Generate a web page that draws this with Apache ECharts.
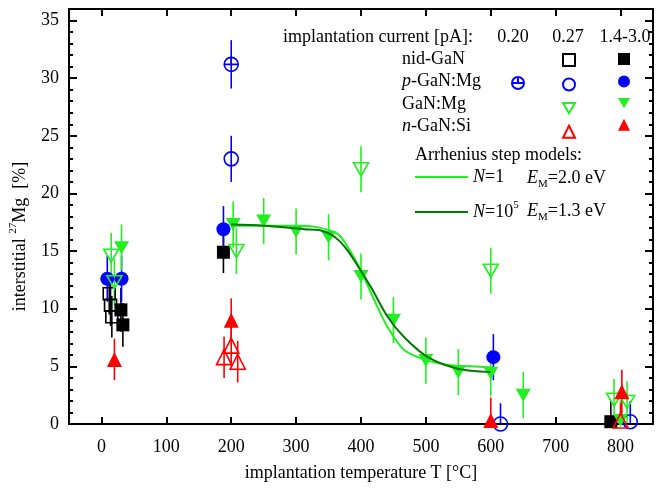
<!DOCTYPE html>
<html>
<head>
<meta charset="utf-8">
<script src="https://cdn.jsdelivr.net/npm/echarts@6/dist/echarts.min.js"></script>
<style>
html, body { margin: 0; padding: 0; background: #fff; }
#chart { width: 658px; height: 491px; }
</style>
</head>
<body>
<div id="chart"></div>
<script>
// [temperature °C, interstitial 27Mg %, error]
const nidOpen = [[12, 11.3, 1.8], [14, 10.3, 1.8], [16, 9.3, 1.8]];
const nidFilled = [[30, 9.9, 1.9], [33, 8.6, 1.9], [188, 14.9, 1.8], [785, 0.2, 1.8]];
const pCross = [[200, 31.2, 2.1]];
const pOpen = [[200, 23.0, 2.0], [615, 0.0, 1.8], [815, 0.2, 1.8]];
const pFilled = [[9, 12.6, 2.0], [31, 12.6, 2.0], [188, 16.9, 2.0], [604, 5.8, 2.0]];
const gOpen = [[15, 14.6, 2.0], [20, 12.3, 2.0], [208, 15.0, 2.0], [400, 22.1, 2.0],
               [600, 13.3, 2.0], [790, 2.1, 1.8], [810, 1.9, 1.8]];
const gFilled = [[31, 15.3, 2.0], [203, 17.3, 2.0], [250, 17.6, 2.0], [300, 16.7, 2.0],
                 [350, 16.2, 2.0], [400, 12.8, 2.0], [450, 9.0, 2.0], [500, 5.5, 2.0],
                 [550, 4.5, 2.0], [600, 4.4, 2.0], [650, 2.5, 2.0], [800, 0.3, 1.8]];
const nOpen = [[189, 5.8, 1.8], [200, 6.8, 1.8], [210, 5.4, 1.8], [800, 0.3, 1.5]];
const nFilled = [[20, 5.6, 1.8], [200, 9.0, 1.9], [600, 0.3, 2.0], [802, 2.8, 1.9]];

// Arrhenius step model curves
const n1X = [200, 230, 262, 300, 330, 364, 380, 400, 420, 441, 467, 503, 538, 570, 600];
const n1Y = [17.2, 17.2, 17.2, 17.2, 17.1, 16.5, 15.3, 13.3, 10.8, 8.4, 6.4, 5.5, 5.1, 5.0, 4.9];
const n5X = [200, 250, 312, 337, 360, 380, 415, 441, 467, 503, 549, 600];
const n5Y = [17.3, 17.2, 16.9, 16.8, 16.2, 15.0, 11.9, 9.3, 7.5, 5.8, 4.8, 4.5];

const xTicks = [0, 100, 200, 300, 400, 500, 600, 700, 800];
const legendRows = ['nid-GaN', '{i|p}-GaN:Mg', 'GaN:Mg', '{i|n}-GaN:Si'];
const currentCols = ['0.20', '0.27', '1.4-3.0'];

const serif = 'Liberation Serif';
const BLUE = '#0000ff', RED = '#ff0000', LGREEN = '#22ee22', DGREEN = '#007a00', BLACK = '#000';
const crossCircle = 'path://M0,10A10,10 0 1,1 20,10A10,10 0 1,1 0,10ZM0,10L20,10M10,0L10,10';
const downTriangle = 'path://M0,0L20,0L10,17Z';

function errBars(data, color) {
    return {
        type: 'custom',
        data: data,
        z: 2,
        silent: true,
        clip: true,
        encode: { x: 0, y: 1 },
        renderItem: function (params, api) {
            const x = api.value(0), y = api.value(1), e = api.value(2);
            const p1 = api.coord([x, y - e]);
            const p2 = api.coord([x, y + e]);
            return {
                type: 'line',
                shape: { x1: p1[0], y1: p1[1], x2: p2[0], y2: p2[1] },
                style: { stroke: color, lineWidth: 1.6 }
            };
        }
    };
}

function points(name, data, symbol, color, hollow, size) {
    return {
        type: 'scatter',
        name: name,
        data: data,
        symbol: symbol,
        symbolSize: size,
        z: 3,
        itemStyle: hollow
            ? { color: 'rgba(0,0,0,0)', borderColor: color, borderWidth: 1.6, opacity: 1 }
            : { color: color, opacity: 1 }
    };
}

function pairs(xs, ys) {
    return xs.map((x, i) => [x, ys[i]]);
}

const series = [
    errBars(nidOpen, BLACK), errBars(nidFilled, BLACK),
    errBars(pCross, BLUE), errBars(pOpen, BLUE), errBars(pFilled, BLUE),
    errBars(gOpen, LGREEN), errBars(gFilled, LGREEN),
    errBars(nOpen, RED), errBars(nFilled, RED),
    points('nid 0.27', nidOpen, 'rect', BLACK, true, 12),
    points('nid 1.4', nidFilled, 'rect', BLACK, false, 13),
    points('p 0.20', pCross, crossCircle, BLUE, true, 14),
    points('p 0.27', pOpen, 'circle', BLUE, true, 14),
    points('p 1.4', pFilled, 'circle', BLUE, false, 14),
    points('g 0.27', gOpen, downTriangle, LGREEN, true, [15, 13]),
    points('g 1.4', gFilled, downTriangle, LGREEN, false, [15, 13]),
    points('n 0.27', nOpen, 'triangle', RED, true, 15),
    points('n 1.4', nFilled, 'triangle', RED, false, 15),
    {
        type: 'line', name: 'N1', data: pairs(n1X, n1Y), smooth: 0.3,
        showSymbol: false, symbol: 'none', z: 4,
        lineStyle: { color: LGREEN, width: 2 }, itemStyle: { color: LGREEN }
    },
    {
        type: 'line', name: 'N5', data: pairs(n5X, n5Y), smooth: 0.3,
        showSymbol: false, symbol: 'none', z: 4,
        lineStyle: { color: DGREEN, width: 2 }, itemStyle: { color: DGREEN }
    }
];

const markerLegend = {
    orient: 'vertical',
    padding: 0,
    itemWidth: 12,
    itemHeight: 12,
    itemGap: 10.5,
    selectedMode: false,
    formatter: function () { return ''; },
    textStyle: { fontSize: 10, lineHeight: 10 }
};

const richText = {
    i: { fontFamily: serif, fontSize: 18, fontStyle: 'italic', color: '#000' },
    r: { fontFamily: serif, fontSize: 18, color: '#000' },
    sup: { fontFamily: serif, fontSize: 11, color: '#000', padding: [0, 0, 13, 0] },
    sub: { fontFamily: serif, fontSize: 11, color: '#000', padding: [12, 0, 0, 0] }
};

function label(x, y, text, align) {
    return {
        type: 'text', x: x, y: y,
        style: {
            text: text, fontFamily: serif, fontSize: 18, fill: '#000',
            align: align || 'left', verticalAlign: 'middle', rich: richText
        }
    };
}

const rowY = [59, 81.5, 104, 126.5];
const colX = [513, 568, 625];
const graphics = [label(283, 37, 'implantation current [pA]:')];
currentCols.forEach((c, i) => graphics.push(label(colX[i], 37, c, 'center')));
legendRows.forEach((r, i) => graphics.push(label(402, rowY[i], r)));
graphics.push(label(415, 155, 'Arrhenius step models:'));
graphics.push(label(527, 178, '{i|E}{sub|M}{r|=2.0 eV}'));
graphics.push(label(527, 211, '{i|E}{sub|M}{r|=1.3 eV}'));

const axisStyle = { color: '#000', width: 2 };

const option = {
    animation: false,
    grid: { left: 68, right: 5, top: 9, bottom: 67 },
    xAxis: [{
        type: 'value', min: -50, max: 850, interval: 100,
        name: 'implantation temperature T [°C]',
        nameLocation: 'middle', nameGap: 40,
        nameTextStyle: { fontFamily: serif, fontSize: 18, color: '#000' },
        axisLine: { onZero: false, lineStyle: axisStyle },
        axisTick: { inside: true, length: 7, lineStyle: axisStyle, customValues: xTicks },
        minorTick: { show: true, splitNumber: 2, length: 4, lineStyle: axisStyle },
        axisLabel: { fontFamily: serif, fontSize: 18, color: '#000', margin: 14, customValues: xTicks },
        splitLine: { show: false }
    }, {
        type: 'value', min: -50, max: 850, interval: 100, position: 'top',
        axisLine: { onZero: false, lineStyle: axisStyle },
        axisTick: { inside: true, length: 7, lineStyle: axisStyle, customValues: xTicks },
        minorTick: { show: true, splitNumber: 2, length: 4, lineStyle: axisStyle },
        axisLabel: { show: false },
        splitLine: { show: false }
    }],
    yAxis: [{
        type: 'value', min: 0, max: 36, interval: 5,
        name: 'interstitial {sup|27}Mg  [%]',
        nameLocation: 'middle', nameGap: 37,
        nameTextStyle: { fontFamily: serif, fontSize: 18, color: '#000', rich: richText, padding: [0, 40, 0, 0] },
        axisLine: { onZero: false, lineStyle: axisStyle },
        axisTick: { inside: true, length: 8, lineStyle: axisStyle },
        minorTick: { show: true, splitNumber: 5, length: 4, lineStyle: axisStyle },
        axisLabel: { fontFamily: serif, fontSize: 18, color: '#000', margin: 10 },
        splitLine: { show: false }
    }, {
        type: 'value', min: 0, max: 36, interval: 5, position: 'right',
        axisLine: { onZero: false, lineStyle: axisStyle },
        axisTick: { inside: true, length: 8, lineStyle: axisStyle },
        minorTick: { show: true, splitNumber: 5, length: 4, lineStyle: axisStyle },
        axisLabel: { show: false },
        splitLine: { show: false }
    }],
    legend: [
        Object.assign({}, markerLegend, { data: ['p 0.20'], left: 511, top: 76 }),
        Object.assign({}, markerLegend, {
            data: ['nid 0.27', 'p 0.27', 'g 0.27', 'n 0.27'], left: 562, top: 53
        }),
        Object.assign({}, markerLegend, {
            data: ['nid 1.4', 'p 1.4', 'g 1.4', 'n 1.4'], left: 618, top: 53
        }),
        {
            orient: 'vertical', padding: 0, left: 415, top: 167,
            itemWidth: 53, itemHeight: 2, itemGap: 13, selectedMode: false,
            icon: 'rect',
            data: ['N1', 'N5'],
            formatter: function (name) {
                return name === 'N1' ? '{i|N}{r|=1}' : '{i|N}{r|=10}{sup|5}';
            },
            textStyle: { fontFamily: serif, fontSize: 18, lineHeight: 20, rich: richText }
        }
    ],
    graphic: graphics,
    series: series
};

const myChart = echarts.init(document.getElementById('chart'));
myChart.setOption(option);
window.addEventListener('resize', myChart.resize);
</script>
</body>
</html>
